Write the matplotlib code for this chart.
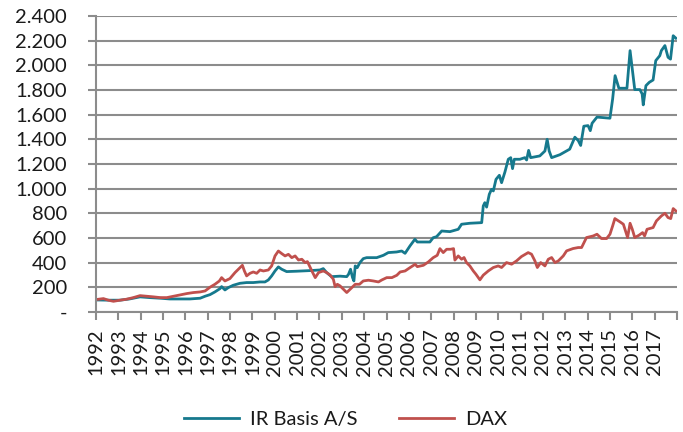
import matplotlib
matplotlib.use("Agg")
import matplotlib.pyplot as plt
from matplotlib.ticker import FuncFormatter

# ---- data ----
ir_years = [1992.0, 1992.6, 1993.07, 1993.5, 1993.97, 1994.4, 1994.87, 1995.3, 1995.77, 1996.2,
            1996.66, 1996.88, 1997.1, 1997.32, 1997.55, 1997.62, 1997.77, 1997.92, 1998.14, 1998.44,
            1998.74, 1999.04, 1999.34, 1999.56, 1999.71, 1999.86, 2000.01, 2000.16, 2000.31, 2000.53,
            2000.98, 2001.57, 2002.02, 2002.17, 2002.32, 2002.54, 2002.92, 2003.22, 2003.3, 2003.39,
            2003.48, 2003.54, 2003.6, 2003.69, 2003.81, 2003.96, 2004.11, 2004.56, 2004.86, 2005.08,
            2005.45, 2005.68, 2005.83, 2006.05, 2006.27, 2006.38, 2006.94, 2007.09, 2007.24, 2007.47,
            2007.84, 2008.21, 2008.36, 2008.73, 2009.26, 2009.33, 2009.4, 2009.48, 2009.6, 2009.7,
            2009.78, 2009.9, 2010.05, 2010.15, 2010.3, 2010.45, 2010.56, 2010.64, 2010.72, 2010.97,
            2011.19, 2011.27, 2011.36, 2011.45, 2011.86, 2012.09, 2012.19, 2012.28, 2012.39, 2012.76,
            2013.2, 2013.43, 2013.58, 2013.69, 2013.83, 2014.02, 2014.12, 2014.2, 2014.42, 2015.0,
            2015.12, 2015.23, 2015.4, 2015.76, 2015.9, 2016.11, 2016.34, 2016.44, 2016.49, 2016.61,
            2016.76, 2016.93, 2017.05, 2017.23, 2017.3, 2017.46, 2017.6, 2017.71, 2017.83, 2017.95]
ir_values = [97, 95, 95, 105, 122, 116, 111, 105, 105, 105,
             111, 127, 140, 162, 189, 205, 178, 197, 216, 232,
             238, 238, 243, 243, 259, 292, 332, 365, 346, 327,
             330, 335, 340, 351, 319, 286, 290, 286, 305, 346,
             278, 251, 373, 359, 400, 432, 440, 440, 459, 481,
             486, 494, 475, 535, 589, 567, 567, 602, 610, 656,
             651, 670, 711, 719, 724, 859, 886, 850, 954, 994,
             981, 1075, 1108, 1048, 1135, 1238, 1251, 1162, 1238, 1238,
             1251, 1232, 1310, 1251, 1265, 1305, 1400, 1305, 1251, 1275,
             1320, 1417, 1390, 1350, 1506, 1511, 1470, 1530, 1580, 1571,
             1727, 1916, 1814, 1814, 2119, 1803, 1803, 1768, 1679, 1835,
             1862, 1881, 2038, 2078, 2119, 2160, 2065, 2050, 2240, 2220]

dax_years = [1992.0, 1992.33, 1992.55, 1992.78, 1993.07, 1993.37, 1993.67, 1993.97, 1994.27, 1994.57,
             1994.87, 1995.17, 1995.47, 1995.77, 1996.07, 1996.36, 1996.66, 1996.88, 1997.1, 1997.32,
             1997.52, 1997.62, 1997.77, 1997.99, 1998.22, 1998.44, 1998.55, 1998.64, 1998.74, 1998.89,
             1999.04, 1999.19, 1999.34, 1999.49, 1999.71, 1999.86, 2000.01, 2000.16, 2000.31, 2000.46,
             2000.61, 2000.76, 2000.91, 2001.06, 2001.21, 2001.36, 2001.46, 2001.66, 2001.81, 2001.96,
             2002.17, 2002.32, 2002.47, 2002.62, 2002.7, 2002.8, 2002.92, 2003.07, 2003.22, 2003.34,
             2003.45, 2003.6, 2003.79, 2003.96, 2004.19, 2004.41, 2004.64, 2004.79, 2005.01, 2005.24,
             2005.46, 2005.61, 2005.83, 2006.05, 2006.28, 2006.38, 2006.65, 2006.87, 2007.09, 2007.27,
             2007.39, 2007.54, 2007.69, 2007.87, 2008.0, 2008.06, 2008.21, 2008.36, 2008.47, 2008.58,
             2008.73, 2008.88, 2009.0, 2009.18, 2009.33, 2009.56, 2009.78, 2010.0, 2010.15, 2010.37,
             2010.6, 2010.82, 2011.04, 2011.34, 2011.49, 2011.64, 2011.75, 2011.9, 2012.09, 2012.24,
             2012.39, 2012.54, 2012.69, 2012.91, 2013.06, 2013.35, 2013.58, 2013.73, 2013.95, 2014.25,
             2014.42, 2014.62, 2014.85, 2015.0, 2015.12, 2015.22, 2015.45, 2015.6, 2015.72, 2015.79,
             2015.9, 2016.0, 2016.11, 2016.3, 2016.46, 2016.55, 2016.66, 2016.93, 2017.08, 2017.3,
             2017.46, 2017.6, 2017.72, 2017.83, 2017.95]
dax_values = [100, 108, 95, 86, 95, 103, 116, 132, 127, 122,
              116, 116, 127, 138, 149, 157, 162, 170, 200, 224,
              251, 278, 251, 270, 319, 359, 378, 332, 292, 313,
              324, 313, 340, 332, 340, 373, 454, 494, 473, 454,
              467, 440, 454, 421, 427, 400, 408, 332, 278, 319,
              332, 319, 300, 265, 205, 224, 211, 184, 157, 178,
              197, 224, 224, 251, 257, 251, 243, 259, 278, 278,
              297, 324, 332, 359, 386, 367, 378, 405, 440, 459,
              513, 481, 508, 508, 513, 420, 454, 427, 441, 400,
              373, 333, 306, 260, 298, 333, 360, 373, 360, 400,
              387, 414, 449, 481, 468, 414, 360, 400, 373, 427,
              441, 400, 414, 454, 495, 514, 522, 522, 603, 616,
              630, 595, 595, 630, 697, 757, 730, 711, 643, 603,
              719, 670, 603, 622, 643, 616, 670, 684, 738, 778,
              800, 765, 757, 838, 819]

year_ticks = list(range(1992, 2018))
year_labels = [str(y) for y in year_ticks]
series_names = ["IR Basis A/S", "DAX"]

# ---- styling ----
plt.rcParams['font.family'] = ['Lato', 'DejaVu Sans']
TEAL = "#16798d"
RED = "#c0504d"
GRID = "#8c8c8c"

fig = plt.figure(figsize=(6.83, 4.32), dpi=100)
ax = fig.add_axes([0.1406, 0.278, 0.8506, 0.685])

ax.plot(ir_years, ir_values, color=TEAL, lw=2.0, label=series_names[0], solid_joinstyle='round')
ax.plot(dax_years, dax_values, color=RED, lw=2.0, label=series_names[1], solid_joinstyle='round')

ax.set_xlim(1992, 2018)
ax.set_ylim(0, 2400)
ax.set_yticks(range(0, 2401, 200))

def fmt(v, pos):
    if v == 0:
        return "-"
    return f"{int(v):,}".replace(",", ".")
ax.yaxis.set_major_formatter(FuncFormatter(fmt))
ax.set_xticks(year_ticks + [2018])
ax.set_xticklabels(year_labels + [""], rotation=90)

ax.grid(axis='y', color=GRID, lw=1.5)
ax.set_axisbelow(True)
for s in ['top', 'right']:
    ax.spines[s].set_visible(False)
for s in ['left', 'bottom']:
    ax.spines[s].set_color(GRID)
    ax.spines[s].set_linewidth(1.5)

ax.tick_params(axis='y', length=6, width=1.5, color=GRID, pad=15, labelsize=14.5, labelcolor='#1a1a1a')
ax.tick_params(axis='x', length=6, width=1.5, color=GRID, pad=6, labelsize=14.5, labelcolor='#1a1a1a')

leg = fig.legend(loc='center', bbox_to_anchor=(0.506, 0.030), ncol=2, frameon=False,
                 fontsize=14.5, handlelength=2.7, columnspacing=2.1, handletextpad=0.55,
                 borderaxespad=0, borderpad=0)
for t in leg.get_texts():
    t.set_color('#1a1a1a')

fig.savefig("out.png", dpi=100)
